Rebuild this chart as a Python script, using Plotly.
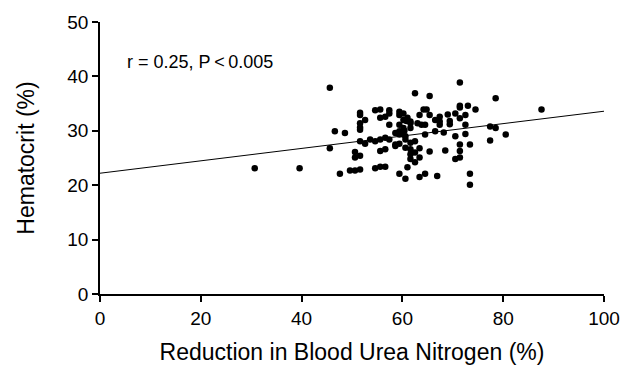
import plotly.graph_objects as go

# Reduction in BUN (%) and Hematocrit (%)
bun = [30.7, 39.6, 45.6, 45.6, 46.6, 47.6, 48.6, 49.6, 50.6, 50.6, 50.6, 51.6, 51.6, 51.6, 51.6,
       51.6, 51.6, 51.6, 51.6, 52.6, 52.6, 53.6, 54.6, 54.6, 54.6, 55.6, 55.6, 55.6, 55.6, 55.6,
       56.6, 56.6, 56.6, 56.6, 57.4, 57.4, 57.4, 57.4, 58.6, 58.6, 58.6, 59.4, 59.4, 59.4, 59.4,
       59.4, 59.4, 59.4, 60.2, 60.2, 60.2, 60.6, 60.6, 60.6, 60.6, 61.0, 61.6, 61.6, 61.6, 61.6,
       61.6, 61.6, 62.5, 62.5, 62.5, 62.5, 63.4, 63.4, 63.4, 63.4, 63.8, 64.2, 64.5, 64.5, 64.5,
       65.4, 65.4, 65.4, 66.5, 66.5, 66.9, 67.4, 67.4, 67.4, 68.2, 68.5, 69.0, 69.4, 69.4, 70.5,
       70.5, 70.5, 71.4, 71.4, 71.4, 71.4, 71.4, 71.4, 71.4, 72.5, 72.5, 72.5, 73.0, 73.4, 73.4,
       73.4, 74.5, 77.4, 77.4, 78.5, 78.5, 80.5, 87.6, 60.2, 61.0, 61.6, 60.4, 64.8, 63.0, 60.8]
hct = [23.1, 23.1, 37.9, 26.8, 29.9, 22.1, 29.6, 22.7, 22.7, 26.1, 25.1, 25.4, 22.9, 33.3, 32.9,
       31.4, 30.6, 30.2, 28.1, 32.0, 27.6, 28.4, 23.1, 33.8, 28.1, 33.9, 32.4, 26.3, 28.4, 23.4,
       32.6, 28.7, 26.6, 23.4, 31.1, 33.8, 33.2, 28.4, 29.6, 27.5, 27.2, 33.5, 32.9, 31.1, 29.9,
       29.3, 27.6, 22.1, 32.0, 30.5, 29.3, 21.2, 29.0, 28.4, 26.9, 23.3, 27.8, 26.6, 25.7, 24.8,
       31.7, 30.5, 36.9, 28.1, 26.0, 24.2, 32.9, 26.8, 25.1, 21.5, 31.1, 33.9, 29.3, 22.1, 31.1,
       36.4, 32.9, 26.2, 32.0, 29.9, 21.7, 32.6, 31.7, 31.1, 29.7, 26.4, 33.0, 31.8, 31.2, 33.2,
       29.0, 24.8, 38.9, 34.6, 34.3, 32.3, 27.5, 26.3, 25.1, 32.9, 31.1, 29.4, 34.6, 27.5, 22.1,
       20.1, 33.9, 30.8, 28.2, 36.0, 30.5, 29.3, 33.9, 33.2, 32.4, 31.4, 30.0, 33.9, 31.4, 31.8]

# Regression line end values
fit_x = [0, 100]
fit_y = [22.2, 33.6]

FONT = "Liberation Sans, Arial, Helvetica, sans-serif"

fig = go.Figure()
fig.add_trace(go.Scatter(x=fit_x, y=fit_y, mode="lines",
                         line=dict(color="black", width=1), hoverinfo="skip"))
fig.add_trace(go.Scatter(x=bun, y=hct, mode="markers",
                         marker=dict(color="black", size=6.5, line=dict(width=0))))

axis_common = dict(showline=True, linecolor="black", linewidth=1.5, ticks="outside",
                   ticklen=6, tickwidth=1.5, tickcolor="black", showgrid=False, zeroline=False,
                   tickfont=dict(family=FONT, size=19, color="black"))

fig.update_xaxes(range=[0, 100], tickvals=[0, 20, 40, 60, 80, 100],
                 title=dict(text="Reduction in Blood Urea Nitrogen (%)",
                            font=dict(family=FONT, size=23, color="black"), standoff=16),
                 **axis_common)
fig.update_yaxes(range=[0, 50], tickvals=[0, 10, 20, 30, 40, 50],
                 title=dict(text="Hematocrit (%)",
                            font=dict(family=FONT, size=23, color="black"), standoff=26),
                 **axis_common)

fig.add_annotation(x=5, y=42.6, xref="x", yref="y", text="r = 0.25, P\u2009<\u20090.005",
                   showarrow=False, xanchor="left", yanchor="middle",
                   font=dict(family=FONT, size=18, color="black"))

fig.update_layout(width=633, height=374, margin=dict(l=100, r=29, t=17, b=80),
                  plot_bgcolor="white", paper_bgcolor="white", showlegend=False)

fig.write_html("out.html")
